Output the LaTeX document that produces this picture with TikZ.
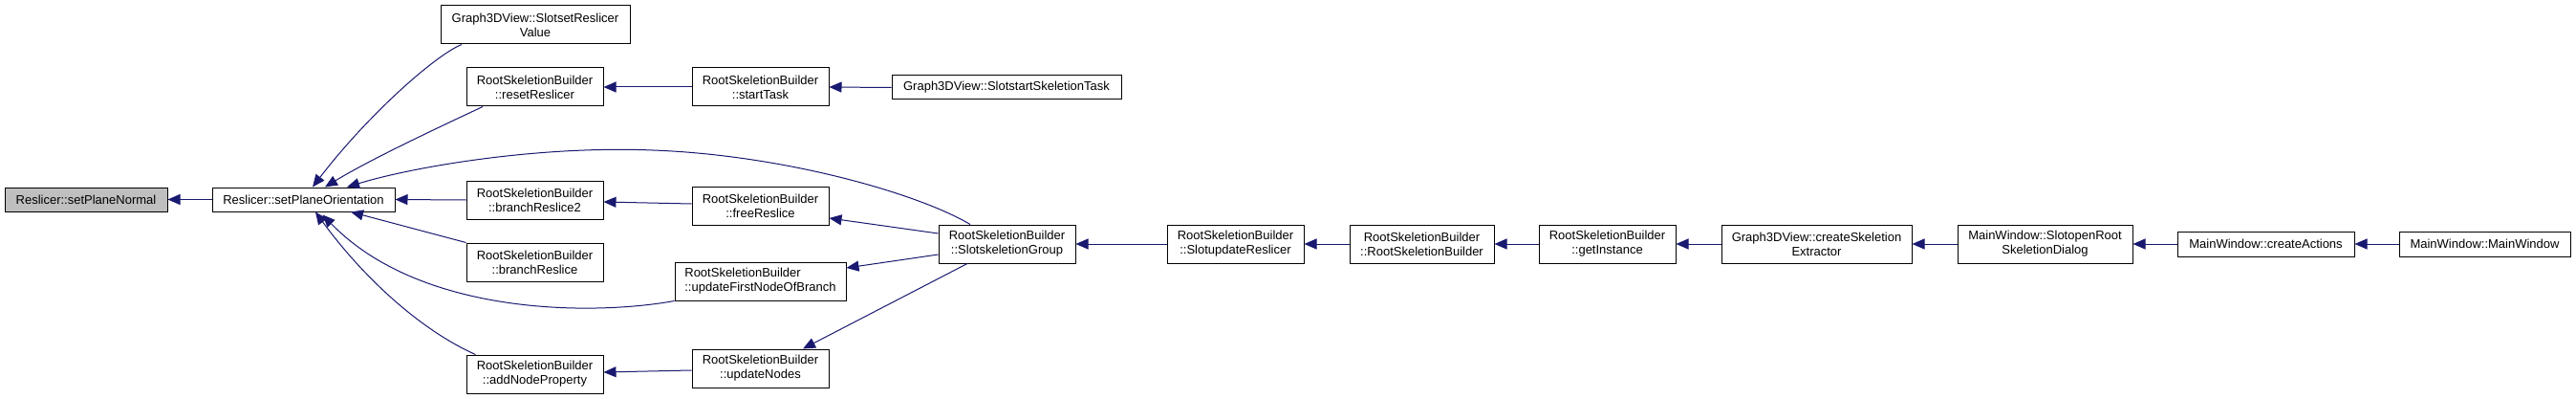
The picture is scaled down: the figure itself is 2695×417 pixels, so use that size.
\documentclass[tikz,border=0pt]{standalone}
\usepackage{fontspec}
\setmainfont{Liberation Sans}
\usetikzlibrary{arrows.meta}
\definecolor{edgeblue}{HTML}{191970}
\definecolor{focusgray}{HTML}{BFBFBF}
\begin{document}
\begin{tikzpicture}[x=1pt,y=-1pt,
  fn/.style={draw=black, line width=1pt, fill=white, inner sep=0pt, align=center,
    font=\fontsize{13pt}{15pt}\selectfont},
  twoline/.style={minimum height=40pt},
  oneline/.style={minimum height=25pt},
  edge/.style={draw=edgeblue, line width=1pt, -{Triangle[length=13pt,width=11pt]}},
]
\useasboundingbox[fill=white] (0,0) rectangle (2695,417);

% nodes
\node[fn, oneline, minimum width=170pt, fill=focusgray] (spn) at (90,208.5) {Reslicer::setPlaneNormal};
\node[fn, oneline, minimum width=191pt] (spo) at (317.5,208.5) {Reslicer::setPlaneOrientation};
\node[fn, twoline, minimum width=198pt] (ssrv) at (560,26) {Graph3DView::SlotsetReslicer\\Value};
\node[fn, twoline, minimum width=143pt] (rr) at (559.5,91) {RootSkeletionBuilder\\::resetReslicer};
\node[fn, twoline, minimum width=143pt] (brtwo) at (559.5,209) {RootSkeletionBuilder\\::branchReslice2};
\node[fn, twoline, minimum width=143pt] (br) at (559.5,274) {RootSkeletionBuilder\\::branchReslice};
\node[fn, twoline, minimum width=143pt] (anp) at (559.5,391) {RootSkeletionBuilder\\::addNodeProperty};
\node[fn, twoline, minimum width=143pt] (st) at (795.5,91) {RootSkeletionBuilder\\::startTask};
\node[fn, twoline, minimum width=143pt] (fr) at (795.5,215) {RootSkeletionBuilder\\::freeReslice};
\node[fn, twoline, minimum width=179pt, align=left] (ufn) at (795.5,294) {RootSkeletionBuilder\\::updateFirstNodeOfBranch};
\node[fn, twoline, minimum width=143pt] (un) at (795.5,385) {RootSkeletionBuilder\\::updateNodes};
\node[fn, oneline, minimum width=240pt] (sst) at (1053,91.5) {Graph3DView::SlotstartSkeletionTask};
\node[fn, twoline, minimum width=143pt] (ssg) at (1053.5,255) {RootSkeletionBuilder\\::SlotskeletionGroup};
\node[fn, twoline, minimum width=143pt] (sur) at (1292.5,255) {RootSkeletionBuilder\\::SlotupdateReslicer};
\node[fn, twoline, minimum width=151pt] (ctor) at (1487.5,255) {RootSkeletionBuilder\\::RootSkeletionBuilder};
\node[fn, twoline, minimum width=143pt] (gi) at (1681.5,255) {RootSkeletionBuilder\\::getInstance};
\node[fn, twoline, minimum width=199pt] (cse) at (1900.5,255) {Graph3DView::createSkeletion\\Extractor};
\node[fn, twoline, minimum width=183pt] (sor) at (2139.5,255) {MainWindow::SlotopenRoot\\SkeletionDialog};
\node[fn, oneline, minimum width=185pt, minimum height=26pt] (ca) at (2370.5,255) {MainWindow::createActions};
\node[fn, oneline, minimum width=179pt, minimum height=26pt] (mw) at (2599.5,255) {MainWindow::MainWindow};

% edges (caller -> callee, arrowhead at callee)
\draw[edge] (spo.west) -- (spn.east);
\draw[edge] ([xshift=-77pt]ssrv.south) .. controls (455,58) and (385,120) .. ([xshift=9.5pt]spo.north);
\draw[edge] ([xshift=-54.5pt]rr.south) .. controls (470,128) and (390,165) .. ([xshift=22.5pt]spo.north);
\draw[edge] ([xshift=-38.5pt]ssg.north) .. controls (960,202) and (820,162) .. (683,157)
  .. controls (560,152) and (430,175) .. ([xshift=45.5pt]spo.north);
\draw[edge] (brtwo.west) -- (spo.east);
\draw[edge] (br.north west) -- ([xshift=49.5pt]spo.south);
\draw[edge] (ufn.south west) .. controls (620,330) and (440,330) .. ([xshift=20pt,yshift=-3pt]spo.south);
\draw[edge] ([xshift=10pt]anp.north west) .. controls (440,345) and (380,290) .. ([xshift=12.5pt]spo.south);
\draw[edge] (st.west) -- (rr.east);
\draw[edge] (sst.west) -- (st.east);
\draw[edge] ([yshift=2pt]fr.west) -- ([yshift=-2pt]brtwo.east);
\draw[edge] ([yshift=11pt]ssg.west) -- ([yshift=-13pt]fr.east);
\draw[edge] ([yshift=-11pt]ssg.west) -- ([yshift=14pt]ufn.east);
\draw[edge] ([xshift=-41.5pt]ssg.south) -- ([xshift=44.5pt]un.north);
\draw[edge] ([yshift=-2pt]un.west) -- ([yshift=2pt]anp.east);
\draw[edge] (sur.west) -- (ssg.east);
\draw[edge] (ctor.west) -- (sur.east);
\draw[edge] (gi.west) -- (ctor.east);
\draw[edge] (cse.west) -- (gi.east);
\draw[edge] (sor.west) -- (cse.east);
\draw[edge] (ca.west) -- (sor.east);
\draw[edge] (mw.west) -- (ca.east);
\end{tikzpicture}
\end{document}
